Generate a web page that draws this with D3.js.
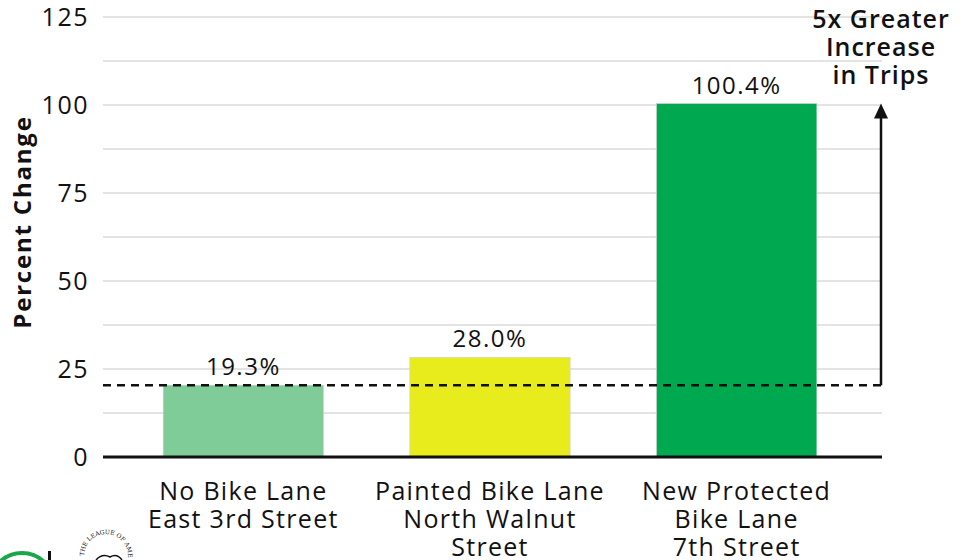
<!DOCTYPE html>
<html>
<head>
<meta charset="utf-8">
<script src="https://cdn.jsdelivr.net/npm/d3@7/dist/d3.min.js"></script>
<style>
  body { margin: 0; background: #fff; }
  svg { display: block; font-family: 'Open Sans', sans-serif; }
</style>
</head>
<body>
<div id="app"></div>
<script>
const categories = [
  ['No Bike Lane', 'East 3rd Street'],
  ['Painted Bike Lane', 'North Walnut', 'Street'],
  ['New Protected', 'Bike Lane', '7th Street']
];
const values = [20.4, 28.3, 100.4];
const valueLabels = ['19.3%', '28.0%', '100.4%'];
const colors = ['#80cc99', '#e8ec1c', '#00a84f'];
const yTicks = [0, 25, 50, 75, 100, 125];
const gridValues = [12.5, 25, 37.5, 50, 62.5, 75, 87.5, 100, 112.5, 125];
const baseline = 20.4;
const annotation = ['5x Greater', 'Increase', 'in Trips'];

const width = 961;
const height = 560;

const svg = d3.select('#app').append('svg')
  .attr('width', width)
  .attr('height', height);

const y = d3.scaleLinear().domain([0, 125]).range([457, 17]);
const x = d3.scaleBand().domain(d3.range(categories.length))
  .range([120, 860]).paddingInner(0.35).paddingOuter(0.175);

const left = 103;
const right = 882;

// gridlines
svg.append('g')
  .selectAll('line').data(gridValues)
  .enter().append('line')
  .attr('x1', left).attr('x2', right)
  .attr('y1', d => y(d)).attr('y2', d => y(d))
  .attr('stroke', '#c8c8c8')
  .attr('stroke-width', 1.2);

// y tick labels
svg.append('g')
  .selectAll('text').data(yTicks)
  .enter().append('text')
  .attr('x', 89)
  .attr('y', d => y(d) + 9)
  .attr('text-anchor', 'end')
  .attr('font-size', 25)
  .attr('letter-spacing', 1.5)
  .attr('fill', '#111')
  .text(d => d);

// bars
svg.append('g')
  .selectAll('rect').data(values)
  .enter().append('rect')
  .attr('x', (d, i) => x(i))
  .attr('width', x.bandwidth())
  .attr('y', d => y(d))
  .attr('height', d => y(0) - y(d))
  .attr('fill', (d, i) => colors[i])
  .attr('stroke', '#d0d0d0')
  .attr('stroke-width', 0.6);

// value labels
svg.append('g')
  .selectAll('text').data(values)
  .enter().append('text')
  .attr('x', (d, i) => x(i) + x.bandwidth() / 2)
  .attr('y', d => y(d) - 10)
  .attr('text-anchor', 'middle')
  .attr('font-size', 24)
  .attr('letter-spacing', 1.5)
  .attr('fill', '#111')
  .text((d, i) => valueLabels[i]);

// baseline axis
svg.append('line')
  .attr('x1', left).attr('x2', right)
  .attr('y1', y(0)).attr('y2', y(0))
  .attr('stroke', '#111')
  .attr('stroke-width', 3);

// dashed reference line
svg.append('line')
  .attr('x1', left).attr('x2', right)
  .attr('y1', y(baseline)).attr('y2', y(baseline))
  .attr('stroke', '#111')
  .attr('stroke-width', 2.5)
  .attr('stroke-dasharray', '8,6');

// arrow up to the protected lane value
svg.append('line')
  .attr('x1', right - 1).attr('x2', right - 1)
  .attr('y1', y(baseline)).attr('y2', y(100.4) + 14)
  .attr('stroke', '#111')
  .attr('stroke-width', 2.5);
svg.append('path')
  .attr('d', `M${right - 8},${y(100.4) + 15} L${right - 1},${y(100.4)} L${right + 6},${y(100.4) + 15} Z`)
  .attr('fill', '#111');

// annotation
svg.append('text')
  .attr('x', 881)
  .attr('y', 28)
  .attr('text-anchor', 'middle')
  .attr('font-size', 25)
  .attr('font-weight', 600)
  .attr('letter-spacing', 1)
  .attr('fill', '#111')
  .selectAll('tspan').data(annotation)
  .enter().append('tspan')
  .attr('x', 881)
  .attr('dy', (d, i) => i === 0 ? 0 : 28)
  .text(d => d);

// x category labels
svg.append('g')
  .selectAll('text').data(categories)
  .enter().append('text')
  .attr('x', (d, i) => x(i) + x.bandwidth() / 2)
  .attr('y', 500)
  .attr('text-anchor', 'middle')
  .attr('font-size', 25)
  .attr('letter-spacing', 1.3)
  .attr('fill', '#111')
  .each(function (lines, i) {
    const cx = x(i) + x.bandwidth() / 2;
    d3.select(this).selectAll('tspan').data(lines)
      .enter().append('tspan')
      .attr('x', cx)
      .attr('dy', (d, j) => j === 0 ? 0 : 28)
      .text(d => d);
  });

// y axis title
svg.append('text')
  .attr('transform', 'translate(31,222) rotate(-90)')
  .attr('text-anchor', 'middle')
  .attr('font-size', 24)
  .attr('font-weight', 700)
  .attr('letter-spacing', 1.8)
  .attr('fill', '#111')
  .text('Percent Change');

// partial logos at bottom-left
const logo = svg.append('g');
logo.append('circle')
  .attr('cx', 22).attr('cy', 585).attr('r', 32)
  .attr('fill', 'none')
  .attr('stroke', '#1aa64a')
  .attr('stroke-width', 4);
logo.append('rect')
  .attr('x', 48).attr('y', 551).attr('width', 3).attr('height', 9)
  .attr('fill', '#111');
logo.append('path')
  .attr('id', 'sealArc')
  .attr('d', 'M84,556 A22,22 0 0 1 128,556')
  .attr('fill', 'none');
logo.append('text')
  .attr('font-size', 6)
  .attr('font-family', 'DejaVu Serif, serif')
  .attr('fill', '#111')
  .append('textPath')
  .attr('href', '#sealArc')
  .text('THE LEAGUE OF AMERICAN');
logo.append('path')
  .attr('d', 'M96,560 Q102,553 110,557 Q117,553 122,560')
  .attr('fill', 'none')
  .attr('stroke', '#111')
  .attr('stroke-width', 1.5);
</script>
</body>
</html>
